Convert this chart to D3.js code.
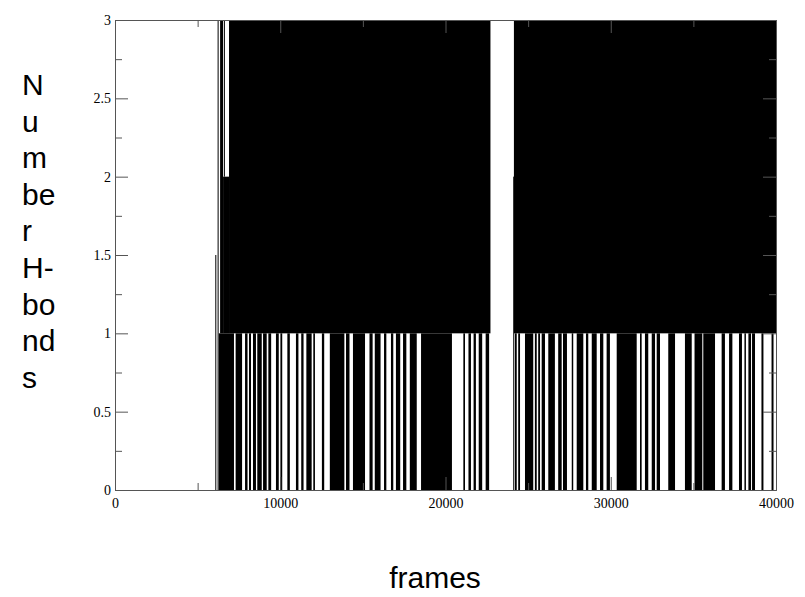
<!DOCTYPE html>
<html>
<head>
<meta charset="utf-8">
<script src="https://cdnjs.cloudflare.com/ajax/libs/d3/7.8.5/d3.min.js"></script>
<style>
  body { margin: 0; background: #fff; }
</style>
</head>
<body>
<div id="my_dataviz"></div>
<script>
// H-bond count vs frame.
// The trace flips so fast that it shows up as solid runs, so it is kept as runs.

// runs where the count keeps flipping between low and high
const runStart = [6360, 6540, 6900, 24140];
const runEnd   = [6540, 6900, 22720, 40000];
const runLow   = [1, 1, 1, 1];
const runHigh  = [3, 2, 3, 3];

// single jumps that stand alone
const jumpFrame = [6100, 6240, 6620, 24130];
const jumpLow   = [0, 0, 2, 0];
const jumpHigh  = [1.5, 3, 3, 2];

// stretches where the count falls back to 0
const dropStart = [6280, 7300, 7870, 8110, 8350, 8610, 8960, 9280, 9740, 10010,
  10430, 10950, 11270, 11580, 12000, 12520, 13000, 13980, 14400, 15400,
  15720, 16280, 16700, 17000, 17430, 17840, 18520, 21080, 21390, 21700,
  22010, 22430,
  24200, 24400, 24810, 25410, 25610, 25820, 26220, 26820, 27110, 27640,
  27940, 28500, 28850, 29350, 29750, 30360, 31770, 32070, 32480, 32780,
  33480, 34490, 35070, 35600, 36710, 37160, 37760, 38090, 38330, 38550,
  39120, 39730];
const dropEnd = [7200, 7690, 8020, 8230, 8530, 8880, 9180, 9450, 9910, 10120,
  10580, 11100, 11410, 11900, 12100, 12660, 13880, 14190, 15130, 15590,
  16070, 16420, 16840, 17260, 17630, 18260, 20390, 21180, 21540, 21840,
  22220, 22640,
  24310, 24510, 25310, 25520, 25720, 26020, 26620, 27030, 27350, 27730,
  28340, 28640, 29150, 29550, 29950, 31570, 31870, 32270, 32680, 32980,
  33890, 34900, 35540, 36310, 36910, 37360, 37940, 38180, 38490, 38730,
  39240, 39850];

// tick values
const xMajor = [0, 10000, 20000, 30000, 40000];
const xMinor = [5000, 15000, 25000, 35000];
const yMajor = [0, 0.5, 1, 1.5, 2, 2.5, 3];
const yMinor = [0.25, 0.75, 1.25, 1.75, 2.25, 2.75];

const yTitle = ["N", "u", "m", "be", "r", "H-", "bo", "nd", "s"];

const margin = {top: 20, right: 29, bottom: 107, left: 115},
    width = 805 - margin.left - margin.right,
    height = 597 - margin.top - margin.bottom;

const root = d3.select("#my_dataviz")
    .append("svg")
    .attr("width", 805)
    .attr("height", 597);

const svg = root.append("g")
    .attr("transform", `translate(${margin.left}, ${margin.top})`);

const x = d3.scaleLinear().domain([0, 40000]).range([0, width]);
const y = d3.scaleLinear().domain([0, 3]).range([height, 0]);

// runs
const runs = runStart.map((s, i) => ({s: s, e: runEnd[i], lo: runLow[i], hi: runHigh[i]}));
const drops = dropStart.map((s, i) => ({s: s, e: dropEnd[i], lo: 0, hi: 1}));

svg.selectAll("rect.run")
    .data(runs.concat(drops))
    .enter()
    .append("rect")
    .attr("class", "run")
    .attr("x", d => x(d.s))
    .attr("y", d => y(d.hi))
    .attr("width", d => Math.max(1, x(d.e) - x(d.s)))
    .attr("height", d => y(d.lo) - y(d.hi))
    .attr("fill", "#000");

svg.selectAll("line.jump")
    .data(jumpFrame.map((f, i) => ({f: f, lo: jumpLow[i], hi: jumpHigh[i]})))
    .enter()
    .append("line")
    .attr("class", "jump")
    .attr("x1", d => x(d.f)).attr("x2", d => x(d.f))
    .attr("y1", d => y(d.lo)).attr("y2", d => y(d.hi))
    .attr("stroke", "#000")
    .attr("stroke-width", 1);

// axes, ticks pointing inward on all four sides
function styleAxis(g) {
    g.selectAll("path.domain").attr("stroke", "#555");
    g.selectAll(".tick line").attr("stroke", "#555");
    g.selectAll("text")
        .attr("font-family", "Liberation Serif, Times New Roman, serif")
        .attr("font-size", 14)
        .attr("fill", "#000");
}

svg.append("g")
    .attr("transform", `translate(0, ${height})`)
    .call(d3.axisBottom(x).tickValues(xMajor).tickSizeInner(-13).tickSizeOuter(0)
        .tickPadding(8).tickFormat(d3.format("d")))
    .call(styleAxis);
svg.append("g")
    .attr("transform", `translate(0, ${height})`)
    .call(d3.axisBottom(x).tickValues(xMinor).tickSizeInner(-7).tickSizeOuter(0).tickFormat(""))
    .call(styleAxis);
svg.append("g")
    .call(d3.axisTop(x).tickValues(xMajor).tickSizeInner(-13).tickSizeOuter(0).tickFormat(""))
    .call(styleAxis);
svg.append("g")
    .call(d3.axisTop(x).tickValues(xMinor).tickSizeInner(-7).tickSizeOuter(0).tickFormat(""))
    .call(styleAxis);

svg.append("g")
    .call(d3.axisLeft(y).tickValues(yMajor).tickSizeInner(-13).tickSizeOuter(0)
        .tickPadding(4).tickFormat(d => d3.format("")(d)))
    .call(styleAxis);
svg.append("g")
    .call(d3.axisLeft(y).tickValues(yMinor).tickSizeInner(-7).tickSizeOuter(0).tickFormat(""))
    .call(styleAxis);
svg.append("g")
    .attr("transform", `translate(${width}, 0)`)
    .call(d3.axisRight(y).tickValues(yMajor).tickSizeInner(-13).tickSizeOuter(0).tickFormat(""))
    .call(styleAxis);
svg.append("g")
    .attr("transform", `translate(${width}, 0)`)
    .call(d3.axisRight(y).tickValues(yMinor).tickSizeInner(-7).tickSizeOuter(0).tickFormat(""))
    .call(styleAxis);

// axis titles
root.append("text")
    .attr("x", 435)
    .attr("y", 588)
    .attr("text-anchor", "middle")
    .attr("font-family", "Liberation Sans, Arial, sans-serif")
    .attr("font-size", 30)
    .text("frames");

root.append("g")
    .selectAll("text")
    .data(yTitle)
    .enter()
    .append("text")
    .attr("x", 22)
    .attr("y", (d, i) => 95 + i * 36.6)
    .attr("font-family", "Liberation Sans, Arial, sans-serif")
    .attr("font-size", 30)
    .text(d => d);
</script>
</body>
</html>
